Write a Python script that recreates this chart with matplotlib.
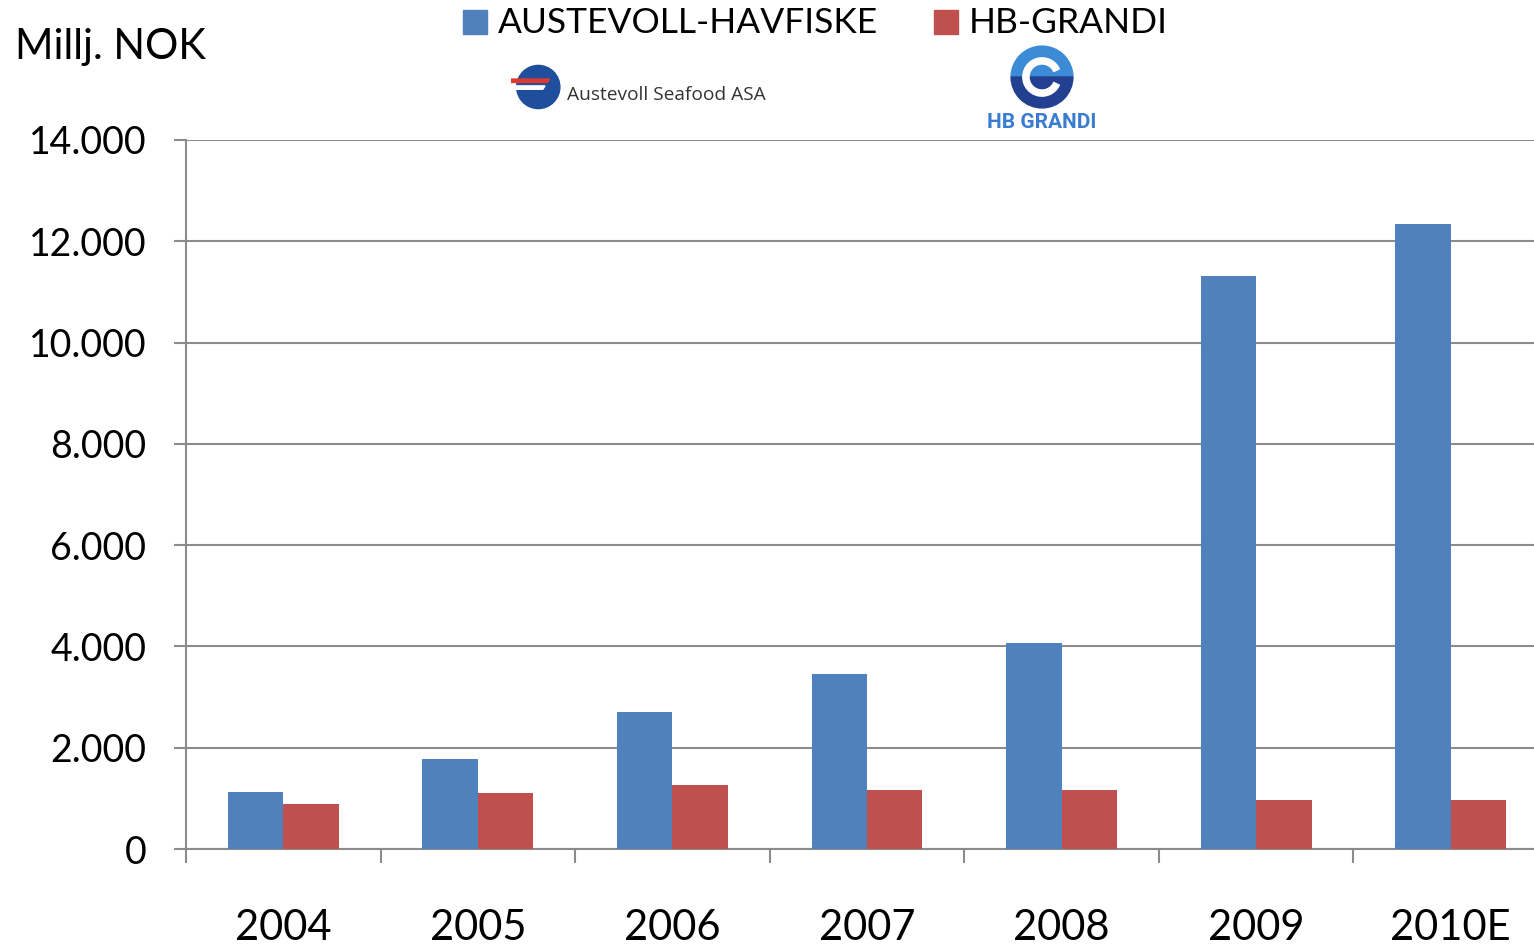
import matplotlib
matplotlib.use("Agg")
import matplotlib.pyplot as plt
from matplotlib.patches import Rectangle, Circle, Wedge, Polygon
import numpy as np

categories = ["2004", "2005", "2006", "2007", "2008", "2009", "2010E"]
austevoll = [1130, 1780, 2705, 3460, 4070, 11320, 12340]
hbgrandi = [890, 1110, 1260, 1165, 1165, 970, 970]
yticks = [0, 2000, 4000, 6000, 8000, 10000, 12000, 14000]
ytick_labels = ["0", "2.000", "4.000", "6.000", "8.000", "10.000", "12.000", "14.000"]

BLUE = "#4F81BD"
RED = "#C0504D"
GRID = "#8C8C8C"
FONT = "Lato"

W, H = 1534, 946
fig = plt.figure(figsize=(W / 100, H / 100), dpi=100)

def fx(px):
    return px / W

def fy(py):
    return 1 - py / H

ax = fig.add_axes([fx(186), fy(849), fx(1548) - fx(186), fy(140) - fy(849)])
x = np.arange(len(categories))
bw = 0.285
ax.bar(x - bw / 2, austevoll, width=bw, color=BLUE, zorder=3)
ax.bar(x + bw / 2, hbgrandi, width=bw, color=RED, zorder=3)

ax.set_xlim(-0.5, len(categories) - 0.5)
ax.set_ylim(0, 14000)
ax.set_yticks(yticks)
ax.set_yticklabels(ytick_labels, fontsize=27, family=FONT)
ax.set_xticks(x)
ax.set_xticklabels(categories, fontsize=30, family=FONT)
ax.set_xticks(np.arange(len(categories) + 1) - 0.5, minor=True)
ax.tick_params(axis="x", which="major", length=0, pad=43)
ax.tick_params(axis="x", which="minor", length=10, width=1.5, color=GRID)
ax.tick_params(axis="y", which="major", length=8.5, width=1.5, color=GRID, pad=20)
ax.yaxis.grid(True, color=GRID, linewidth=1.5, zorder=0)
ax.set_axisbelow(True)
for s in ["top", "right"]:
    ax.spines[s].set_visible(False)
for s in ["left", "bottom"]:
    ax.spines[s].set_color(GRID)
    ax.spines[s].set_linewidth(1.5)

# y-axis unit label
fig.text(fx(15), fy(47), "Millj. NOK", fontsize=30, family=FONT, va="center", ha="left")

# legend (manual)
for px0, col, lab in [(463, BLUE, "AUSTEVOLL-HAVFISKE"), (934, RED, "HB-GRANDI")]:
    fig.patches.append(Rectangle((fx(px0), fy(34)), fx(24), fy(10) - fy(34),
                                 transform=fig.transFigure, color=col))
    fig.text(fx(px0 + 35), fy(23), lab, fontsize=25.5, family=FONT, va="center", ha="left")

# Austevoll logo approximation (equal-aspect inset)
lax = fig.add_axes([fx(510), fy(112), fx(52), fy(62) - fy(112)])
lax.set_xlim(-1.1, 1.1); lax.set_ylim(-1.1, 1.1); lax.set_aspect("equal"); lax.axis("off")
lax.add_patch(Circle((0.1, 0), 0.95, color="#1f4e9c"))
lax.add_patch(Polygon([(-1.1, 0.35), (0.6, 0.35), (0.5, 0.2), (-1.1, 0.2)], color="#e03a2f"))
lax.add_patch(Polygon([(-1.0, 0.05), (0.4, 0.05), (0.3, -0.1), (-1.0, -0.1)], color="white"))
fig.text(fx(567), fy(95), "Austevoll Seafood ASA", fontsize=13.8, family="Open Sans",
         color="#333333", va="center", ha="left")

# HB Grandi logo approximation
hax = fig.add_axes([fx(1008), fy(111), fx(68), fy(43) - fy(111)])
hax.set_xlim(-1.1, 1.1); hax.set_ylim(-1.1, 1.1); hax.set_aspect("equal"); hax.axis("off")
hax.add_patch(Wedge((0, 0), 1.0, 0, 180, color="#3b8bd6"))
hax.add_patch(Wedge((0, 0), 1.0, 180, 360, color="#233f8f"))
hax.add_patch(Wedge((0, 0), 0.62, 25, 335, width=0.2, color="white"))
fig.text(fx(1042), fy(123), "HB GRANDI", fontsize=15, family="Roboto", weight="bold",
         color="#3a7dd0", va="center", ha="center")

fig.savefig("out.png", dpi=100)
